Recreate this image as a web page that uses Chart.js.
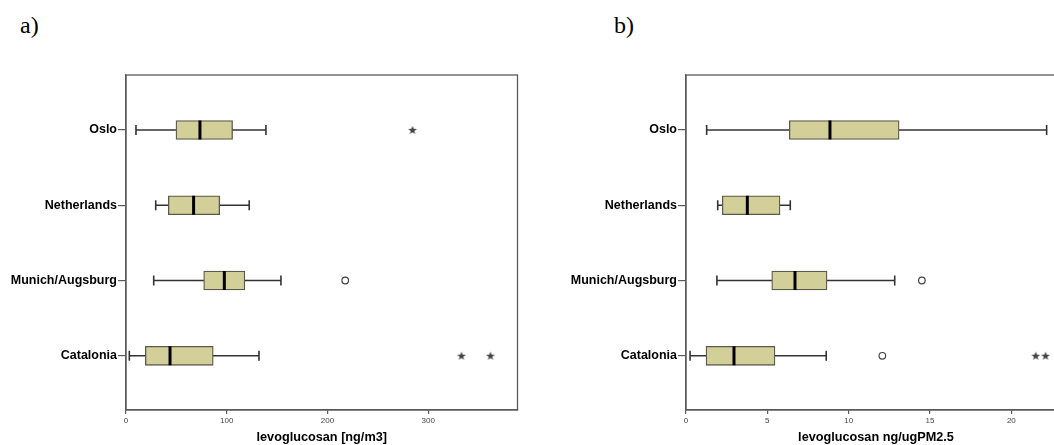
<!DOCTYPE html>
<html>
<head>
<meta charset="utf-8">
<script src="https://cdn.jsdelivr.net/npm/chart.js@4.4.1/dist/chart.umd.min.js"></script>
<style>
  html, body { margin: 0; padding: 0; background: #fff; }
  body { width: 1054px; height: 445px; position: relative; overflow: hidden; }
  .panel-label {
    position: absolute; top: 12px;
    font-family: 'Liberation Serif', 'Times New Roman', serif;
    font-size: 24px; color: #000;
  }
  canvas { position: absolute; top: 60px; }
</style>
</head>
<body>
<div class="panel-label" style="left:20px">a)</div>
<div class="panel-label" style="left:614px">b)</div>
<canvas id="chartA" width="530" height="385" style="left:0"></canvas>
<canvas id="chartB" width="550" height="385" style="left:530px"></canvas>
<script>
const categories = ['Oslo', 'Netherlands', 'Munich/Augsburg', 'Catalonia'];

// a) levoglucosan [ng/m3]
const concMin = [9.9, 29.5, 27.5, 3.3];
const concQ1 = [49.6, 42, 77.1, 19.2];
const concMedian = [73.4, 67.1, 97.6, 43.7];
const concQ3 = [105.8, 93, 118, 86.6];
const concMax = [138.9, 122.3, 153.8, 132];
const concOutlierCat = [2];
const concOutlierVal = [217.6];
const concExtremeCat = [0, 3, 3];
const concExtremeVal = [284.4, 333, 361.8];
const concTicks = [0, 100, 200, 300];

// b) levoglucosan ng/ugPM2.5
const fracMin = [1.27, 1.95, 1.9, 0.25];
const fracQ1 = [6.35, 2.23, 5.27, 1.23];
const fracMedian = [8.85, 3.77, 6.7, 2.95];
const fracQ3 = [13.1, 5.78, 8.67, 5.47];
const fracMax = [22.17, 6.41, 12.83, 8.62];
const fracOutlierCat = [2, 3];
const fracOutlierVal = [14.5, 12.07];
const fracExtremeCat = [3, 3];
const fracExtremeVal = [21.5, 22.1];
const fracTicks = [0, 5, 10, 15, 20];

Chart.defaults.font.family = "'Liberation Sans', Arial, sans-serif";
Chart.defaults.animation = false;

const BOX_FILL = '#d3cf99';
const LINE = '#333';
const FRAME = '#5a5a5a';

function starImage() {
  const c = document.createElement('canvas');
  c.width = 10; c.height = 10;
  const g = c.getContext('2d');
  g.fillStyle = '#444';
  g.beginPath();
  for (let i = 0; i < 10; i++) {
    const r = i % 2 === 0 ? 4.6 : 1.9;
    const a = -Math.PI / 2 + i * Math.PI / 5;
    const px = 5 + r * Math.cos(a);
    const py = 5.3 + r * Math.sin(a);
    if (i === 0) g.moveTo(px, py); else g.lineTo(px, py);
  }
  g.closePath();
  g.fill();
  return c;
}
const STAR = starImage();

const framePlugin = {
  id: 'frame',
  afterDraw(chart) {
    const { ctx, chartArea: a } = chart;
    ctx.save();
    ctx.strokeStyle = FRAME;
    ctx.lineWidth = 1.3;
    ctx.strokeRect(a.left, a.top, a.right - a.left, a.bottom - a.top);
    ctx.restore();
  },
};

function pairs(cats, vals) {
  return cats.map((c, i) => ({ x: vals[i], y: c }));
}

function makeBoxChart(id, s) {
  const datasets = [];

  datasets.push({
    type: 'scatter',
    data: s.median.map((v, i) => ({ x: v, y: i })),
    pointStyle: 'line', rotation: 90, radius: 9.5,
    borderColor: '#000', borderWidth: 3,
  });

  datasets.push({
    type: 'scatter',
    data: s.min.map((v, i) => ({ x: v, y: i })).concat(s.max.map((v, i) => ({ x: v, y: i }))),
    pointStyle: 'line', rotation: 90, radius: 5,
    borderColor: LINE, borderWidth: 1.6,
  });

  datasets.push({
    type: 'scatter',
    data: pairs(s.outCat, s.outVal),
    pointStyle: 'circle', radius: 3.3,
    backgroundColor: '#fff', borderColor: '#444', borderWidth: 1.2,
  });

  datasets.push({
    type: 'scatter',
    data: pairs(s.extCat, s.extVal),
    pointStyle: STAR,
  });

  datasets.push({
    type: 'bar',
    indexAxis: 'y',
    data: s.q1.map((v, i) => ({ x: [v, s.q3[i]], y: i })),
    backgroundColor: BOX_FILL,
    borderColor: '#5a5a4a',
    borderWidth: 1.3,
    borderSkipped: false,
    barThickness: 19,
  });

  categories.forEach((c, i) => {
    datasets.push({
      type: 'line',
      data: [{ x: s.min[i], y: i }, { x: s.max[i], y: i }],
      borderColor: LINE, borderWidth: 1.4,
      pointRadius: 0,
    });
  });

  return new Chart(document.getElementById(id), {
    type: 'bar',
    data: { datasets },
    plugins: [framePlugin],
    options: {
      responsive: false,
      layout: { padding: { top: 15, right: s.padRight, left: 0, bottom: 0 } },
      plugins: { legend: { display: false }, tooltip: { enabled: false } },
      scales: {
        x: {
          type: 'linear',
          offset: false,
          min: 0,
          max: s.xMax,
          afterBuildTicks: (scale) => { scale.ticks = s.ticks.map((v) => ({ value: v })); },
          afterFit: (scale) => { scale.height = 35; },
          ticks: { color: '#444', font: { size: 8 }, padding: 2, maxRotation: 0 },
          grid: { display: true, offset: false, drawOnChartArea: false, drawTicks: true, tickLength: 4, color: FRAME, lineWidth: 1.2 },
          border: { display: true, color: FRAME, width: 1.3 },
          title: { display: true, text: s.title, color: '#000', font: { size: 12.7, weight: 'bold' }, padding: { top: 0, bottom: 0 } },
        },
        y: {
          type: 'linear',
          offset: false,
          reverse: true,
          min: -0.73,
          max: 3.72,
          afterBuildTicks: (scale) => { scale.ticks = categories.map((c, i) => ({ value: i })); },
          afterFit: (scale) => { scale.width = s.yWidth; },
          ticks: {
            color: '#000', font: { size: 12.5, weight: 'bold' }, padding: 1,
            callback: (v) => categories[v],
          },
          grid: { display: true, offset: false, drawOnChartArea: false, drawTicks: true, tickLength: 8, color: FRAME, lineWidth: 1.2 },
          border: { display: true, color: FRAME, width: 1.3 },
        },
      },
    },
  });
}

makeBoxChart('chartA', {
  min: concMin, q1: concQ1, median: concMedian, q3: concQ3, max: concMax,
  outCat: concOutlierCat, outVal: concOutlierVal,
  extCat: concExtremeCat, extVal: concExtremeVal,
  ticks: concTicks, xMax: 388.6, title: 'levoglucosan [ng/m3]',
  yWidth: 126, padRight: 12,
});

makeBoxChart('chartB', {
  min: fracMin, q1: fracQ1, median: fracMedian, q3: fracQ3, max: fracMax,
  outCat: fracOutlierCat, outVal: fracOutlierVal,
  extCat: fracExtremeCat, extVal: fracExtremeVal,
  ticks: fracTicks, xMax: 23.36, title: 'levoglucosan ng/ugPM2.5',
  yWidth: 156, padRight: 14,
});
</script>
</body>
</html>
